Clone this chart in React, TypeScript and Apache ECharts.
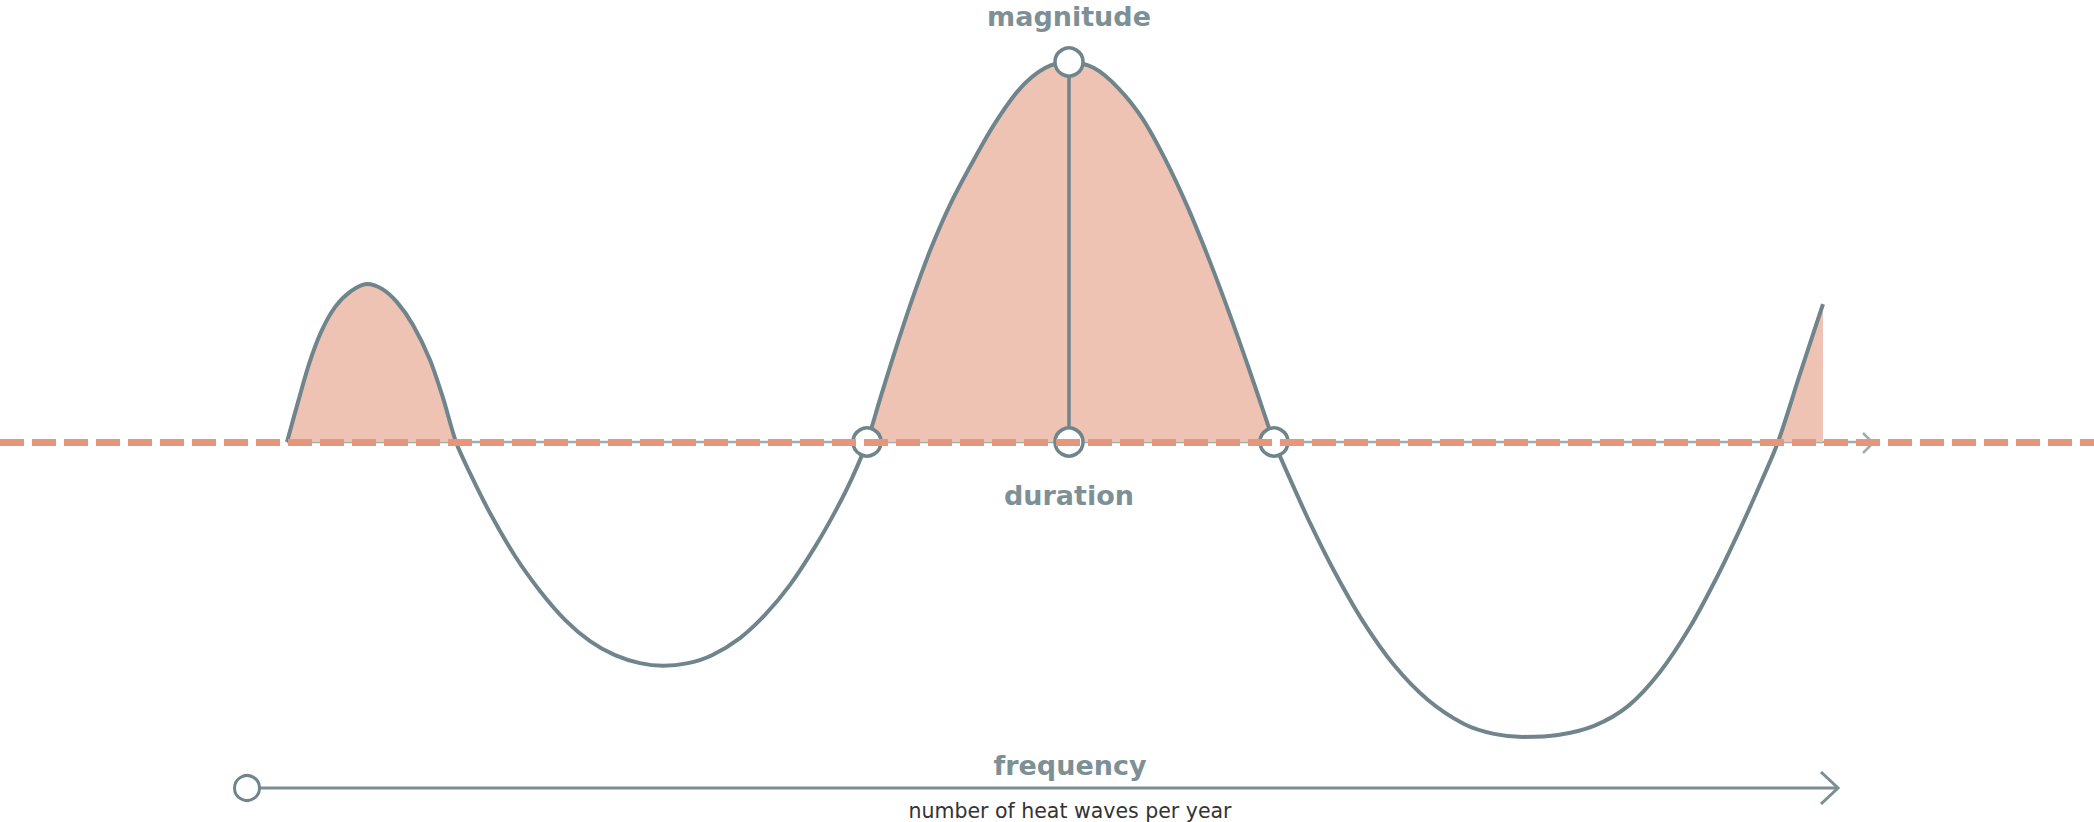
import React, { useEffect, useRef } from "react";
import * as echarts from "echarts";

// Heat-wave schematic: temperature curve (x = day, y = anomaly relative to threshold)
const curveDays = [
  0, 1.1, 2.2, 3.4, 4.8, 6.4, 8.0, 9.5, 11.0, 12.6, 14.3, 15.6, 16.9,
  18.3, 20.3, 22.8, 25.3, 27.8, 30.3, 32.8, 35.3, 37.6, 40.1, 42.5, 45.3, 47.8, 50.3, 52.8, 54.8, 56.5, 58.0,
  59.3, 60.8, 62.5, 64.3, 66.3, 68.5, 70.8, 73.3, 75.8, 78.2, 80.7, 83.1, 85.5, 87.8, 90.1, 92.3, 94.3, 96.1, 97.5, 98.7,
  100.3, 102.3, 104.7, 107.5, 110.7, 114.1, 117.7, 120.7, 123.6, 127.1, 130.7, 134.1, 137.3, 140.3, 143.1, 145.5, 147.5, 149.1,
  151.3, 153.6,
];
const curveAnomaly = [
  0, 1.05, 2.05, 2.89, 3.55, 3.97, 4.16, 4.03, 3.68, 3.08, 2.16, 1.16, 0,
  -0.82, -1.87, -3.0, -3.92, -4.68, -5.24, -5.61, -5.82, -5.89, -5.82, -5.61, -5.16, -4.55, -3.76, -2.76, -1.84, -0.95, 0,
  1.13, 2.39, 3.74, 5.03, 6.24, 7.34, 8.39, 9.3, 9.84, 10, 9.84, 9.32, 8.53, 7.45, 6.16, 4.74, 3.34, 2.0, 0.92, 0,
  -0.97, -2.13, -3.39, -4.68, -5.87, -6.79, -7.42, -7.68, -7.76, -7.71, -7.47, -6.95, -6.05, -4.87, -3.5, -2.18, -1.0, 0,
  1.79, 3.63,
];
const durationStart = 58.0;
const durationEnd = 98.7;
const peakDay = 78.2;
const peakMagnitude = 10;
const thresholdAxisEnd = 158.6;

const labelMagnitude = "magnitude";
const labelDuration = "duration";
const labelFrequency = "frequency";
const labelFrequencySub = "number of heat waves per year";

const X_MIN = -28.7;
const X_MAX = 180.7;
const Y_MIN = -10;
const Y_MAX = 10;

const GREY = "#6f858b";
const LABEL_GREY = "#7d9096";
const FILL = "#efc3b3";
const DASH = "#e4977a";
const THIN = "#9eabaf";
const FONT = "DejaVu Sans";

export default function App() {
  const ref = useRef<HTMLDivElement>(null);
  useEffect(() => {
    document.body.style.margin = "0";
    if (!ref.current) return;
    const chart = echarts.init(ref.current, undefined, { renderer: "svg" });
    const curve = curveDays.map((d, i) => [d, curveAnomaly[i]]);
    const option: any = {
      animation: false,
      backgroundColor: "#ffffff",
      grid: { left: 0, right: 0, top: 62, bottom: 0 },
      xAxis: { type: "value", min: X_MIN, max: X_MAX, show: false },
      yAxis: { type: "value", min: Y_MIN, max: Y_MAX, show: false },
      visualMap: {
        type: "piecewise",
        show: false,
        dimension: 1,
        seriesIndex: 0,
        pieces: [
          { gt: 0, lte: 100, color: FILL },
          { gt: -100, lte: 0, color: "rgba(255,255,255,0)" },
        ],
        outOfRange: { color: "rgba(255,255,255,0)" },
      },
      series: [
        {
          type: "line",
          data: curve,
          smooth: 0.3,
          showSymbol: false,
          symbol: "none",
          z: 2,
          lineStyle: { color: GREY, width: 4 },
          areaStyle: { opacity: 1 },
        },
        {
          type: "line",
          data: [
            [0, 0],
            [thresholdAxisEnd, 0],
          ],
          symbol: "none",
          z: 1,
          lineStyle: { color: THIN, width: 2.5 },
        },
        {
          type: "line",
          data: [
            [peakDay, 0],
            [peakDay, peakMagnitude],
          ],
          symbol: "none",
          z: 3,
          lineStyle: { color: GREY, width: 3.5 },
        },
        {
          type: "scatter",
          z: 4,
          symbol: "circle",
          symbolSize: 28,
          itemStyle: { color: "#ffffff", borderColor: GREY, borderWidth: 3.5, opacity: 1 },
          data: [
            { value: [durationStart, 0] },
            {
              value: [peakDay, 0],
              label: {
                show: true,
                position: "bottom",
                distance: 24,
                formatter: labelDuration,
                fontFamily: FONT,
                fontWeight: "bold",
                fontSize: 27,
                color: LABEL_GREY,
              },
            },
            { value: [durationEnd, 0] },
            {
              value: [peakDay, peakMagnitude],
              label: {
                show: true,
                position: "top",
                distance: 16,
                formatter: labelMagnitude,
                fontFamily: FONT,
                fontWeight: "bold",
                fontSize: 27,
                color: LABEL_GREY,
              },
            },
          ],
          markLine: {
            silent: true,
            symbol: "none",
            z: 6,
            label: { show: false },
            lineStyle: { color: DASH, width: 7, type: [24, 8], opacity: 1 },
            data: [{ yAxis: 0 }],
          },
        },
      ],
      graphic: [
        {
          type: "polyline",
          z: 2,
          shape: { points: [[1863, 433], [1873, 443], [1863, 453]] },
          style: { stroke: THIN, lineWidth: 2.5, fill: "none" },
        },
        {
          type: "line",
          z: 2,
          shape: { x1: 258, y1: 788, x2: 1838, y2: 788 },
          style: { stroke: "#7a8e93", lineWidth: 3 },
        },
        {
          type: "polyline",
          z: 2,
          shape: { points: [[1821, 772], [1838, 788], [1821, 804]] },
          style: { stroke: "#7a8e93", lineWidth: 3, fill: "none" },
        },
        {
          type: "circle",
          z: 3,
          shape: { cx: 247, cy: 788, r: 12.5 },
          style: { stroke: GREY, lineWidth: 3, fill: "#ffffff" },
        },
        {
          type: "text",
          z: 3,
          x: 1070,
          y: 765,
          style: {
            text: labelFrequency,
            fontFamily: FONT,
            fontWeight: "bold",
            fontSize: 27,
            fill: LABEL_GREY,
            textAlign: "center",
            textVerticalAlign: "middle",
          },
        },
        {
          type: "text",
          z: 3,
          x: 1070,
          y: 811,
          style: {
            text: labelFrequencySub,
            fontFamily: FONT,
            fontSize: 20.5,
            fill: "#333333",
            textAlign: "center",
            textVerticalAlign: "middle",
          },
        },
      ],
    };
    chart.setOption(option);
    return () => chart.dispose();
  }, []);
  return <div ref={ref} style={{ width: 2094, height: 822 }} />;
}
